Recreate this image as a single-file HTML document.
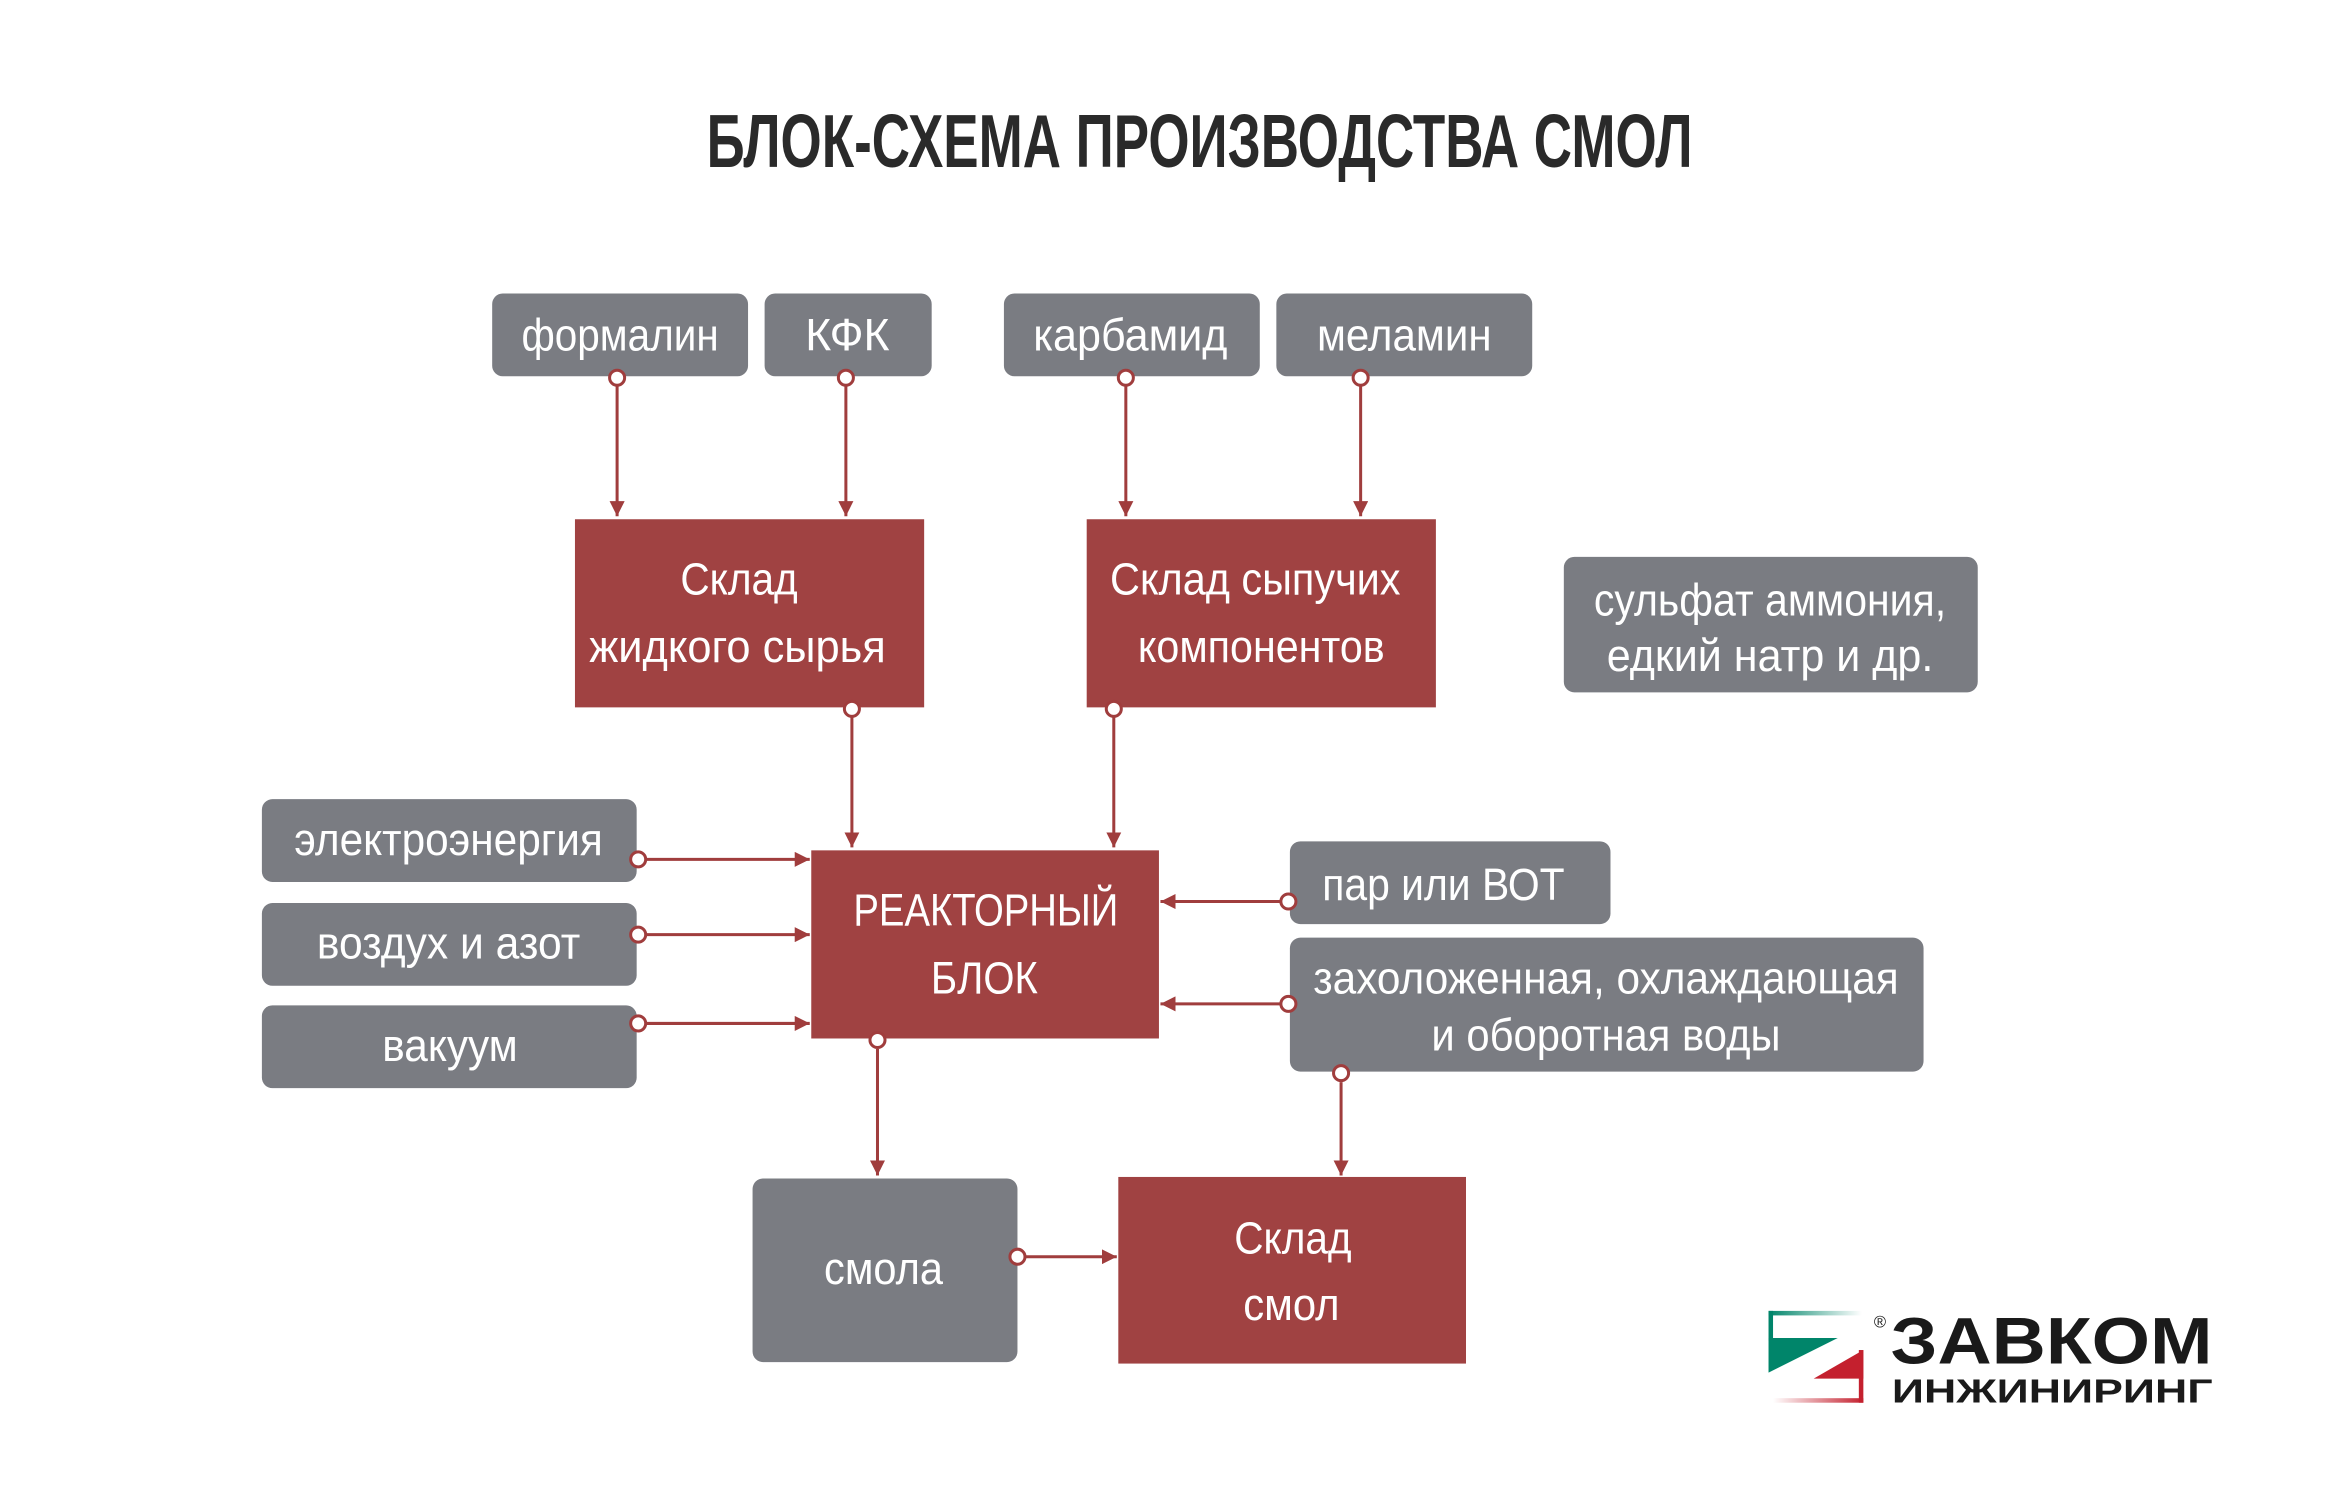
<!DOCTYPE html>
<html><head><meta charset="utf-8"><style>
html,body{margin:0;padding:0;background:#fff;}
svg{display:block;}
text{font-family:"Liberation Sans","DejaVu Sans",sans-serif;fill:#fff;}
</style></head><body>
<svg width="2348" height="1490" viewBox="0 0 1560 990" preserveAspectRatio="none" xmlns="http://www.w3.org/2000/svg">
<defs>
<marker id="ar" viewBox="0 0 10 10" refX="10" refY="5" markerWidth="10" markerHeight="10" markerUnits="userSpaceOnUse" orient="auto"><path d="M0,0 L10,5 L0,10 z" fill="#a03d3d"/></marker>
<linearGradient id="gg" x1="0" x2="1"><stop offset="0" stop-color="#00856a"/><stop offset="1" stop-color="#00856a" stop-opacity="0"/></linearGradient>
<linearGradient id="rg" x1="1" x2="0"><stop offset="0" stop-color="#c4202e"/><stop offset="1" stop-color="#c4202e" stop-opacity="0"/></linearGradient>
</defs>
<rect width="1560" height="990" fill="#fff"/>
<text x="797" y="111" font-size="50" font-weight="bold" style="fill:#2a2a2a" text-anchor="middle" textLength="655" lengthAdjust="spacingAndGlyphs">БЛОК-СХЕМА ПРОИЗВОДСТВА СМОЛ</text>

<g fill="#7a7c82">
<rect x="327" y="195" width="170" height="55" rx="7"/>
<rect x="508" y="195" width="111" height="55" rx="7"/>
<rect x="667" y="195" width="170" height="55" rx="7"/>
<rect x="848" y="195" width="170" height="55" rx="7"/>
<rect x="1039" y="370" width="275" height="90" rx="7"/>
<rect x="174" y="531" width="249" height="55" rx="7"/>
<rect x="174" y="600" width="249" height="55" rx="7"/>
<rect x="174" y="668" width="249" height="55" rx="7"/>
<rect x="857" y="559" width="213" height="55" rx="7"/>
<rect x="857" y="623" width="421" height="89" rx="7"/>
<rect x="500" y="783" width="176" height="122" rx="7"/>
</g>
<g fill="#a04242">
<rect x="382" y="345" width="232" height="125"/>
<rect x="722" y="345" width="232" height="125"/>
<rect x="539" y="565" width="231" height="125"/>
<rect x="743" y="782" width="231" height="124"/>
</g>

<g font-size="30" text-anchor="middle">
<text x="412" y="233" textLength="131" lengthAdjust="spacingAndGlyphs">формалин</text>
<text x="563" y="233" textLength="56" lengthAdjust="spacingAndGlyphs">КФК</text>
<text x="751" y="233" textLength="129" lengthAdjust="spacingAndGlyphs">карбамид</text>
<text x="933" y="233" textLength="116" lengthAdjust="spacingAndGlyphs">меламин</text>
<text x="491" y="395" textLength="78" lengthAdjust="spacingAndGlyphs">Склад</text>
<text x="490" y="440" textLength="197" lengthAdjust="spacingAndGlyphs">жидкого сырья</text>
<text x="834" y="395" textLength="193" lengthAdjust="spacingAndGlyphs">Склад сыпучих</text>
<text x="838" y="440" textLength="164" lengthAdjust="spacingAndGlyphs">компонентов</text>
<text x="1176" y="409" textLength="234" lengthAdjust="spacingAndGlyphs">сульфат аммония,</text>
<text x="1176" y="446" textLength="217" lengthAdjust="spacingAndGlyphs">едкий натр и др.</text>
<text x="298" y="568" textLength="205" lengthAdjust="spacingAndGlyphs">электроэнергия</text>
<text x="298" y="637" textLength="175" lengthAdjust="spacingAndGlyphs">воздух и азот</text>
<text x="299" y="705" textLength="90" lengthAdjust="spacingAndGlyphs">вакуум</text>
<text x="655" y="615" textLength="176" lengthAdjust="spacingAndGlyphs">РЕАКТОРНЫЙ</text>
<text x="654" y="660" textLength="71" lengthAdjust="spacingAndGlyphs">БЛОК</text>
<text x="959" y="598" textLength="161" lengthAdjust="spacingAndGlyphs">пар или ВОТ</text>
<text x="1067" y="660" textLength="389" lengthAdjust="spacingAndGlyphs">захоложенная, охлаждающая</text>
<text x="1067" y="698" textLength="232" lengthAdjust="spacingAndGlyphs">и оборотная воды</text>
<text x="587" y="853" textLength="79" lengthAdjust="spacingAndGlyphs">смола</text>
<text x="859" y="833" textLength="78" lengthAdjust="spacingAndGlyphs">Склад</text>
<text x="858" y="877" textLength="64" lengthAdjust="spacingAndGlyphs">смол</text>
</g>

<g stroke="#a03d3d" stroke-width="2" fill="none" marker-end="url(#ar)">
<line x1="410" y1="256" x2="410" y2="343"/>
<line x1="562" y1="256" x2="562" y2="343"/>
<line x1="748" y1="256" x2="748" y2="343"/>
<line x1="904" y1="256" x2="904" y2="343"/>
<line x1="566" y1="476" x2="566" y2="563"/>
<line x1="740" y1="476" x2="740" y2="563"/>
<line x1="429" y1="571" x2="538" y2="571"/>
<line x1="429" y1="621" x2="538" y2="621"/>
<line x1="429" y1="680" x2="538" y2="680"/>
<line x1="851" y1="599" x2="771" y2="599"/>
<line x1="851" y1="667" x2="771" y2="667"/>
<line x1="583" y1="697" x2="583" y2="781"/>
<line x1="891" y1="719" x2="891" y2="781"/>
<line x1="681" y1="835" x2="742" y2="835"/>
</g>
<g stroke="#a03d3d" stroke-width="2" fill="#fff">
<circle cx="410" cy="251" r="5"/><circle cx="562" cy="251" r="5"/>
<circle cx="748" cy="251" r="5"/><circle cx="904" cy="251" r="5"/>
<circle cx="566" cy="471" r="5"/><circle cx="740" cy="471" r="5"/>
<circle cx="424" cy="571" r="5"/><circle cx="424" cy="621" r="5"/><circle cx="424" cy="680" r="5"/>
<circle cx="856" cy="599" r="5"/><circle cx="856" cy="667" r="5"/>
<circle cx="583" cy="691" r="5"/><circle cx="891" cy="713" r="5"/>
<circle cx="676" cy="835" r="5"/>
</g>

<!-- logo -->
<g>
<rect x="1175" y="871" width="62" height="3" fill="url(#gg)"/>
<rect x="1175" y="871" width="3" height="20" fill="#00856a"/>
<polygon points="1175,889 1221,889 1175,912" fill="#00856a"/>
<polygon points="1238,897 1238,916 1205,916" fill="#c4202e"/>
<rect x="1235" y="897" width="3" height="35" fill="#c4202e"/>
<rect x="1178" y="929" width="60" height="3" fill="url(#rg)"/>
<text x="1245" y="882" font-size="11" style="fill:#222">®</text>
<text x="1256" y="906" font-size="44" font-weight="bold" style="fill:#1a1a1a" textLength="214" lengthAdjust="spacingAndGlyphs">ЗАВКОМ</text>
<text x="1257" y="932" font-size="22" font-weight="bold" style="fill:#1a1a1a" textLength="213" lengthAdjust="spacingAndGlyphs">ИНЖИНИРИНГ</text>
</g>
</svg>
</body></html>
